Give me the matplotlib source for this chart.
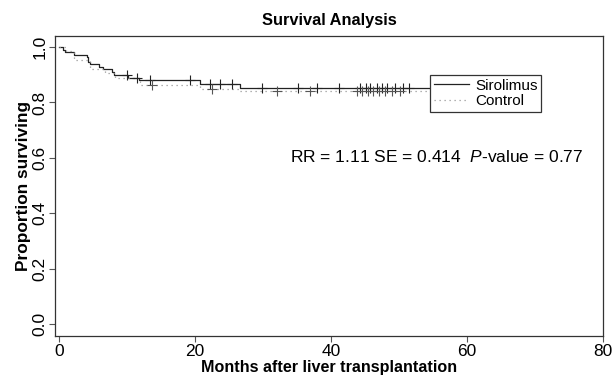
import numpy as np
import matplotlib
matplotlib.use("Agg")
import matplotlib.pyplot as plt

plt.rcParams["font.family"] = ["Liberation Sans", "DejaVu Sans"]
plt.rcParams["mathtext.fontset"] = "custom"
plt.rcParams["mathtext.rm"] = "Liberation Sans"
plt.rcParams["mathtext.it"] = "Liberation Sans:italic"

# Kaplan-Meier steps (months, proportion surviving)
siro_t = [0, 0.55, 0.9, 2.25, 4.1, 4.3, 4.6, 5.9, 6.5, 7.75, 8.1, 10.2, 11.8, 20.7, 26.6, 56]
siro_s = [1.0, 0.991, 0.983, 0.971, 0.963, 0.946, 0.938, 0.929, 0.920, 0.911, 0.899, 0.890, 0.881, 0.865, 0.854, 0.854]
ctrl_t = [0, 1.0, 2.2, 4.5, 6.8, 8.2, 11.9, 20.7, 26.6, 56]
ctrl_s = [1.0, 0.985, 0.953, 0.921, 0.905, 0.890, 0.863, 0.850, 0.841, 0.841]

# censoring marks
siro_cens = [10.0, 11.4, 13.4, 19.3, 22.2, 23.7, 25.4, 29.9, 35.2, 37.9, 41.2,
             44.3, 45.1, 45.8, 46.7, 47.5, 48.3, 49.4, 50.6, 51.4]
ctrl_cens = [13.7, 22.5, 32.0, 36.9, 43.8, 44.6, 45.5, 46.2, 47.1, 47.9, 48.9, 50.1]

def step_at(times, surv, x):
    idx = np.searchsorted(times, x, side="right") - 1
    return np.array(surv)[idx]

fig = plt.figure(figsize=(6.15, 3.79), dpi=100)
ax = fig.add_axes([55 / 615, 43 / 379, 548 / 615, 300 / 379])

ax.step(siro_t, siro_s, where="post", color="#222222", lw=0.9, label="Sirolimus")
ax.step(ctrl_t, ctrl_s, where="post", color="#999999", lw=0.9,
        linestyle=(0, (1, 3)), label="Control")
ax.plot(siro_cens, step_at(siro_t, siro_s, siro_cens), "+", color="#222222",
        ms=7, mew=0.8)
ax.plot(ctrl_cens, step_at(ctrl_t, ctrl_s, ctrl_cens), "+", color="#555555",
        ms=7, mew=0.8)

ax.set_xlim(-0.6, 80)
ax.set_ylim(-0.043, 1.04)
ax.set_xticks([0, 20, 40, 60, 80])
ax.set_yticks([0.0, 0.2, 0.4, 0.6, 0.8, 1.0])
ax.set_yticklabels(["0.0", "0.2", "0.4", "0.6", "0.8", "1.0"], rotation=90, va="center")
ax.tick_params(axis="both", length=4, width=0.8, color="#555555", labelsize=12.5)
ax.tick_params(axis="x", pad=2)
ax.tick_params(axis="y", pad=1.5)
for sp in ax.spines.values():
    sp.set_linewidth(0.9)
    sp.set_color("#333333")

ax.set_title("Survival Analysis", fontsize=11.8, fontweight="bold", pad=8)
ax.set_xlabel("Months after liver transplantation", fontsize=11.6, fontweight="bold", labelpad=0.5)
ax.set_ylabel("Proportion surviving", fontsize=12.4, fontweight="bold", labelpad=1)

leg = ax.legend(loc="upper left", bbox_to_anchor=(0.684, 0.87), fontsize=11,
                frameon=True, fancybox=False, handlelength=2.3, handletextpad=0.4,
                borderpad=0.25, labelspacing=0.1, borderaxespad=0)
leg.get_frame().set_edgecolor("#333333")
leg.get_frame().set_linewidth(0.9)
leg.get_frame().set_alpha(1)

ax.text(34, 0.603, r"RR = 1.11 SE = 0.414  $\mathit{P}$-value = 0.77",
        fontsize=12.5, va="center", ha="left")

fig.savefig("out.png", dpi=100)
